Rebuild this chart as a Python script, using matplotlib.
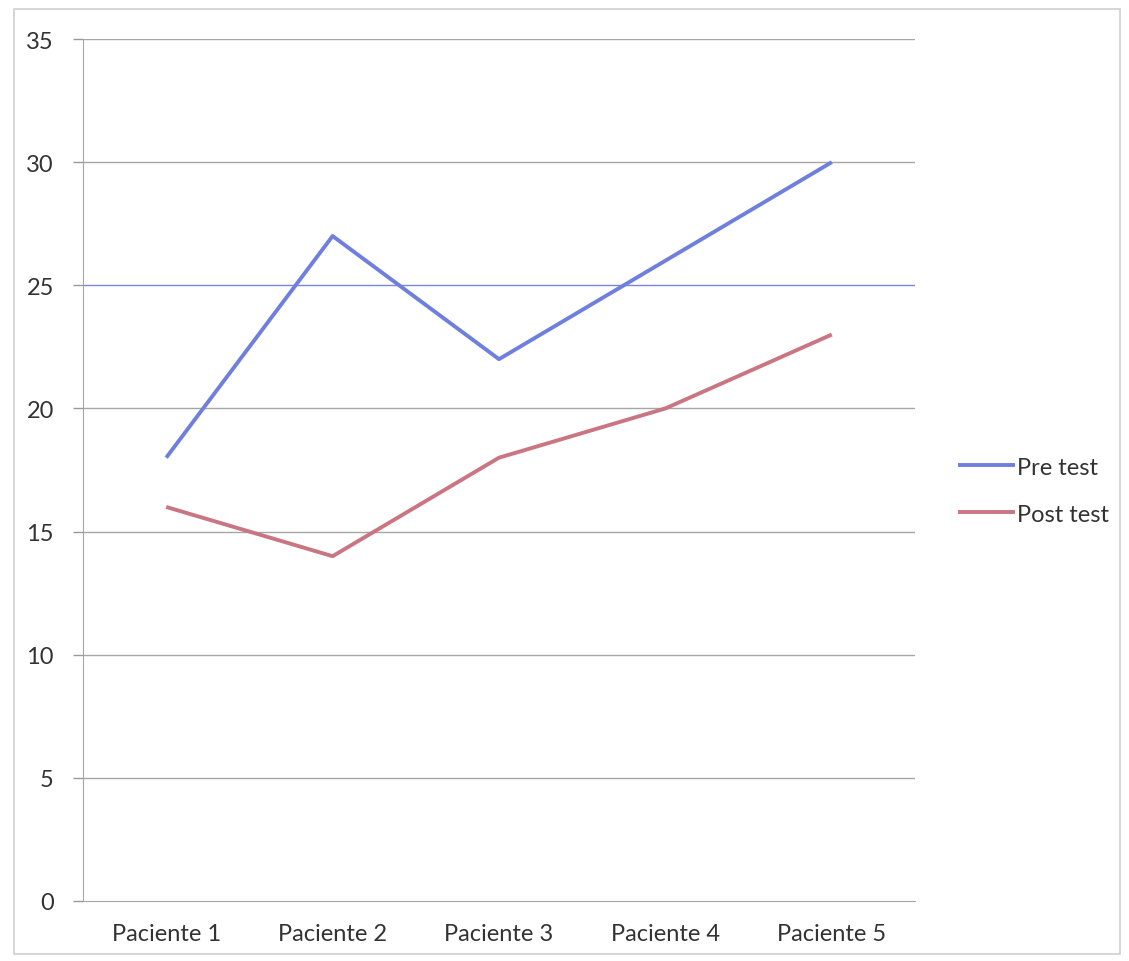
import matplotlib.pyplot as plt
from matplotlib.patches import Rectangle

# Scores per patient
pacientes = ['Paciente 1', 'Paciente 2', 'Paciente 3', 'Paciente 4', 'Paciente 5']
pre_test = [18, 27, 22, 26, 30]
post_test = [16, 14, 18, 20, 23]
y_ticks = [0, 5, 10, 15, 20, 25, 30, 35]

plt.rcParams['font.family'] = ['Lato', 'DejaVu Sans']

fig = plt.figure(figsize=(11.29, 9.62), dpi=100)
ax = fig.add_axes([83 / 1129, 1 - 902 / 962, (915 - 83) / 1129, (902 - 40) / 962])

x = range(len(pacientes))
ax.plot(x, pre_test, color='#6f80dc', lw=2.8, label='Pre test', solid_capstyle='butt')
ax.plot(x, post_test, color='#c97582', lw=2.8, label='Post test', solid_capstyle='butt')

ax.set_xlim(-0.5, len(pacientes) - 0.5)
ax.set_ylim(0, 35)
ax.set_yticks(y_ticks)
ax.set_yticklabels([str(v) for v in y_ticks], fontsize=17, color='#333333')
ax.set_xticks(list(x))
ax.set_xticklabels(pacientes, fontsize=17, color='#333333')
ax.tick_params(axis='y', length=7, color='#999999', width=1, pad=14)
ax.tick_params(axis='x', length=0, pad=16)

# horizontal gridlines; the 25 line is bluish
for v in y_ticks[1:]:
    c = '#7a85d8' if v == 25 else '#a6a6a6'
    ax.axhline(v, color=c, lw=1.0, zorder=0)

for s in ['top', 'right']:
    ax.spines[s].set_visible(False)
ax.spines['left'].set_color('#a6a6a6')
ax.spines['bottom'].set_color('#a6a6a6')

leg = ax.legend(loc='center left', bbox_to_anchor=(1.038, 0.476), frameon=False, borderpad=0,
                fontsize=17, handlelength=2.4, handletextpad=0.1, labelspacing=1.1)
for t in leg.get_texts():
    t.set_color('#333333')

# outer chart border
fig.patches.append(Rectangle((14 / 1129, 1 - 955 / 962), (1120 - 14) / 1129, (955 - 10) / 962,
                             transform=fig.transFigure, fill=False, ec='#d0d0d0', lw=1.2))

fig.savefig('out.png', dpi=100)
